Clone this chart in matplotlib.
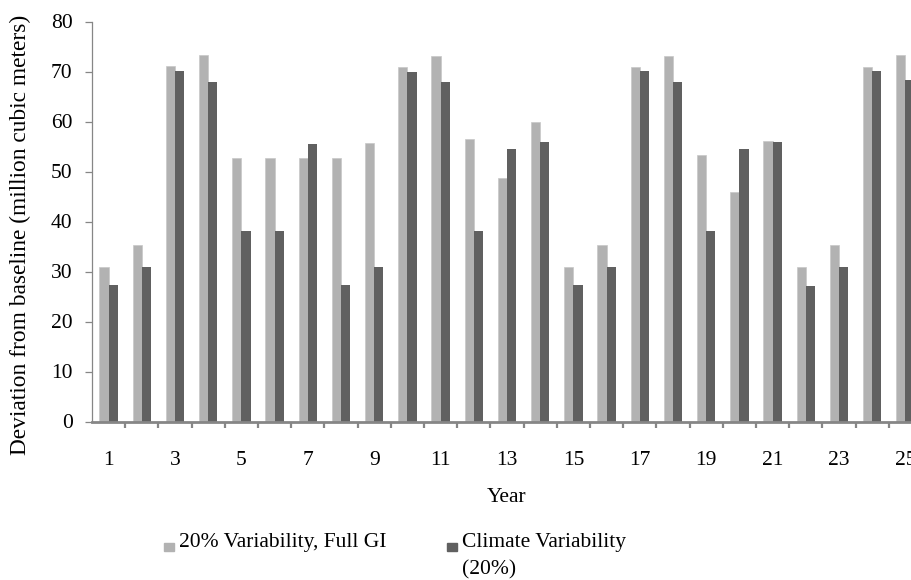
import matplotlib
matplotlib.use('Agg')
import matplotlib.pyplot as plt
from matplotlib.patches import Rectangle

plt.rcParams['font.family'] = ['Liberation Serif', 'DejaVu Serif']

years = list(range(1, 26))
full_gi = [31.0, 35.3, 71.2, 73.4, 52.7, 52.7, 52.7, 52.7, 55.7, 71.0,
           73.1, 56.5, 48.7, 60.0, 30.9, 35.3, 71.0, 73.1, 53.4, 45.9,
           56.2, 30.9, 35.3, 71.0, 73.4]
climate = [27.3, 31.0, 70.1, 68.0, 38.1, 38.1, 55.5, 27.3, 31.0, 69.9,
           68.0, 38.1, 54.6, 56.0, 27.3, 31.0, 70.1, 68.0, 38.1, 54.6,
           56.0, 27.1, 31.0, 70.1, 68.3]
series_names = ['20% Variability, Full GI', 'Climate Variability\n(20%)']
colors = ['#b2b2b2', '#606060']

fig = plt.figure(figsize=(9.12, 5.8), dpi=100)
ax = fig.add_axes([92/912, 1 - 421.5/580, 830/912, 400/580])

w = 0.28
ax.bar([y - w/2 for y in years], full_gi, width=w, color=colors[0],
       edgecolor='#c8c8c8', linewidth=0.5)
ax.bar([y + w/2 for y in years], climate, width=w, color=colors[1], linewidth=0)

ax.set_xlim(0.5, 25.5)
ax.set_ylim(0, 80)
ax.set_yticks(range(0, 81, 10))
ax.set_xticks(years[::2])
ax.set_xticks([y + 0.5 for y in years[:-1]], minor=True)

for s in ['top', 'right']:
    ax.spines[s].set_visible(False)
ax.spines['left'].set_color('#868686')
ax.spines['left'].set_linewidth(0.9)
ax.spines['bottom'].set_color('#868686')
ax.spines['bottom'].set_linewidth(2.0)

ax.tick_params(axis='y', direction='out', length=5, width=0.9, color='#868686',
               pad=9, labelsize=15.5)
ax.tick_params(axis='x', which='major', length=0, pad=21, labelsize=15.5)
ax.tick_params(axis='x', which='minor', direction='out', length=4, width=1.6,
               color='#868686')

fig.text(20/912, 1 - 235/580, 'Deviation from baseline (million cubic meters)',
         rotation=90, ha='center', va='center', fontsize=16.8)
fig.text(507/912, 1 - 497/580, 'Year', ha='center', va='center', fontsize=15.5)

# legend drawn by hand so the wrapped label sits like the original
leg_x = [164, 447]
for i in range(2):
    fig.patches.append(Rectangle((leg_x[i]/912, 1 - 551/580), 10/912, 8/580,
                                 transform=fig.transFigure, color=colors[i]))
    fig.text((leg_x[i] + 15)/912, 1 - 533/580, series_names[i], ha='left',
             va='top', fontsize=15.5, linespacing=1.55)

fig.savefig('out.png', dpi=100)
